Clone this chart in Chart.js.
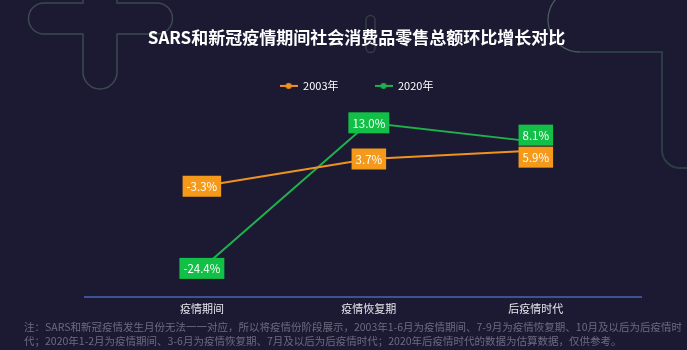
<!DOCTYPE html>
<html>
<head>
<meta charset="utf-8">
<script src="https://cdn.jsdelivr.net/npm/chart.js@4"></script>
<style>
    html, body { margin: 0; padding: 0; background: #1c1a33; }
    #wrap { width: 687px; height: 350px; }
</style>
</head>
<body>
<div id="wrap"><canvas id="chart" width="687" height="350"></canvas></div>
<script>
// DATA
const categories = ["疫情期间", "疫情恢复期", "后疫情时代"];
const series2003 = [-3.3, 3.7, 5.9];
const series2020 = [-24.4, 13.0, 8.1];
const seriesNames = ["2003年", "2020年"];

const ORANGE = "#f0921e";
const ORANGE_BOX = "#f5991a";
const GREEN = "#1fb24c";
const GREEN_BOX = "#12c047";
const FONT = "'Noto Sans CJK SC', 'Noto Sans', sans-serif";

const footnote = [
    "注：SARS和新冠疫情发生月份无法一一对应，所以将疫情份阶段展示，2003年1-6月为疫情期间、7-9月为疫情恢复期、10月及以后为后疫情时",
    "代；2020年1-2月为疫情期间、3-6月为疫情恢复期、7月及以后为后疫情时代；2020年后疫情时代的数据为估算数据，仅供参考。"
];

// legend marker: line with a dot
function legendMarker(color) {
    const c = document.createElement("canvas");
    c.width = 18; c.height = 8;
    const g = c.getContext("2d");
    g.strokeStyle = color; g.lineWidth = 2;
    g.beginPath(); g.moveTo(0, 4); g.lineTo(18, 4); g.stroke();
    g.fillStyle = color;
    g.beginPath(); g.arc(9, 4, 3, 0, Math.PI * 2); g.fill();
    return c;
}

function toPoints(values) {
    return values.map((v, i) => ({ x: i, y: v }));
}

// BACKGROUND + DECORATION
const backdrop = {
    id: "backdrop",
    beforeDraw(ch) {
        const g = ch.ctx;
        g.save();
        g.fillStyle = "#1c1a33";
        g.fillRect(0, 0, ch.width, ch.height);

        // cross outline top-left
        g.strokeStyle = "#3a4950";
        g.lineWidth = 1.5;
        g.beginPath();
        g.moveTo(83, -5);
        g.lineTo(83, 3);
        g.lineTo(44, 3);
        g.arc(44, 18.5, 15.5, -Math.PI / 2, Math.PI / 2, true);
        g.lineTo(83, 34);
        g.lineTo(83, 72);
        g.arc(100, 72, 17, Math.PI, 0, true);
        g.lineTo(117, 34);
        g.lineTo(157, 34);
        g.arc(157, 18.5, 15.5, Math.PI / 2, -Math.PI / 2, true);
        g.lineTo(117, 3);
        g.lineTo(117, -5);
        g.stroke();

        // small capsule behind title
        g.strokeStyle = "#323c48";
        g.beginPath();
        g.arc(370.5, 20, 4.5, Math.PI, 0);
        g.lineTo(375, 48);
        g.arc(370.5, 48, 4.5, 0, Math.PI);
        g.closePath();
        g.stroke();

        // arc + frame top-right
        g.strokeStyle = "#4a5b5c";
        g.lineWidth = 1.3;
        g.beginPath();
        g.arc(580, 20, 32, Math.PI * 1.22, Math.PI / 2, true);
        g.stroke();
        g.strokeStyle = "#2d3c44";
        g.lineWidth = 2;
        g.beginPath();
        g.moveTo(580, 52);
        g.lineTo(662, 52);
        g.lineTo(662, 150);
        g.arc(680, 150, 18, Math.PI, Math.PI / 2, true);
        g.lineTo(690, 168);
        g.stroke();
        g.restore();
    },
    afterDraw(ch) {
        const g = ch.ctx;
        g.save();
        g.fillStyle = "#6c6b80";
        g.font = "10.5px " + FONT;
        g.textBaseline = "middle";
        g.fillText(footnote[0], 24, 327);
        g.fillText(footnote[1], 24, 341);
        g.restore();
    }
};

// VALUE LABELS IN BOXES
const boxLabels = {
    id: "boxLabels",
    afterDatasetsDraw(ch) {
        const g = ch.ctx;
        g.save();
        g.font = "11.5px " + FONT;
        g.textAlign = "center";
        g.textBaseline = "middle";
        const h = 21;
        const boxes = [];
        ch.data.datasets.forEach((ds, di) => {
            const meta = ch.getDatasetMeta(di);
            meta.data.forEach((pt, i) => {
                const text = ds.data[i].y.toFixed(1) + "%";
                const w = g.measureText(text).width + 8;
                boxes.push({ x: pt.x, y: pt.y, w, text, color: ds.boxColor, i });
            });
        });
        // push apart boxes that overlap at the same category
        for (let a = 0; a < boxes.length; a++) {
            for (let b = a + 1; b < boxes.length; b++) {
                const A = boxes[a], B = boxes[b];
                if (A.i !== B.i) continue;
                const d = Math.abs(A.y - B.y);
                if (d < h + 1) {
                    const push = (h + 1 - d) / 2;
                    if (A.y < B.y) { A.y -= push; B.y += push; } else { A.y += push; B.y -= push; }
                }
            }
        }
        boxes.forEach((bx) => {
            g.fillStyle = bx.color;
            g.fillRect(bx.x - bx.w / 2, bx.y - h / 2, bx.w, h);
            g.fillStyle = "#ffffff";
            g.fillText(bx.text, bx.x, bx.y + 0.5);
        });
        g.restore();
    }
};

// CHART
const chart = new Chart(document.getElementById("chart").getContext("2d"), {
    type: "line",
    data: {
        datasets: [
            {
                label: seriesNames[0],
                data: toPoints(series2003),
                borderColor: ORANGE,
                backgroundColor: ORANGE,
                boxColor: ORANGE_BOX,
                borderWidth: 2,
                pointRadius: 0,
                tension: 0,
            },
            {
                label: seriesNames[1],
                data: toPoints(series2020),
                borderColor: GREEN,
                backgroundColor: GREEN,
                boxColor: GREEN_BOX,
                borderWidth: 2,
                pointRadius: 0,
                tension: 0,
            },
        ],
    },
    options: {
        responsive: false,
        animation: false,
        layout: { padding: { left: 72, right: 46, top: 0, bottom: 30 } },
        scales: {
            x: {
                type: "linear",
                min: -0.7,
                max: 2.63,
                afterBuildTicks: (s) => { s.ticks = [0, 1, 2].map((v) => ({ value: v })); },
                grid: { display: false, drawTicks: false },
                border: { display: true, color: "#3c5293", width: 2 },
                ticks: {
                    padding: 5,
                    color: "#e6e6ee",
                    font: { size: 11, family: FONT },
                    callback: (v) => categories[v],
                },
            },
            y: {
                min: -31.7,
                max: 18.5,
                afterFit: (s) => { s.width = 13; },
                grid: { display: false },
                border: { display: false },
                ticks: { display: false },
            },
        },
        plugins: {
            title: {
                display: true,
                text: "SARS和新冠疫情期间社会消费品零售总额环比增长对比",
                color: "#ffffff",
                font: { size: 17, weight: "bold", family: FONT },
                padding: { top: 27, bottom: -3 },
            },
            legend: {
                labels: {
                    color: "#ffffff",
                    font: { size: 11, family: FONT },
                    usePointStyle: true,
                    pointStyleWidth: 18,
                    boxHeight: 8,
                    padding: 36,
                    generateLabels: (ch) => ch.data.datasets.map((ds, i) => ({
                        text: ds.label,
                        fontColor: "#ffffff",
                        pointStyle: legendMarker(ds.borderColor),
                        strokeStyle: ds.borderColor,
                        fillStyle: ds.borderColor,
                        lineWidth: 0,
                        datasetIndex: i,
                    })),
                },
            },
            tooltip: { enabled: false },
        },
    },
    plugins: [backdrop, boxLabels],
});
</script>
</body>
</html>
